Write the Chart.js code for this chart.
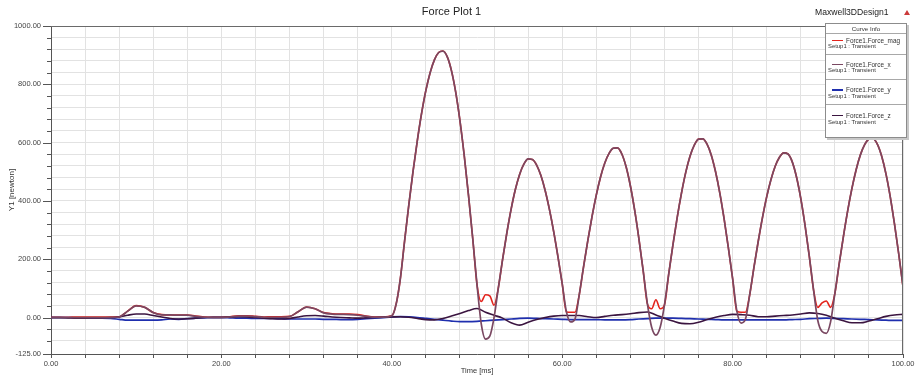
<!DOCTYPE html>
<html>
<head>
<meta charset="utf-8">
<script src="https://cdn.jsdelivr.net/npm/chart.js@4.4.1/dist/chart.umd.min.js"></script>
<style>
html,body{margin:0;padding:0;background:#fff;}
#wrap{position:relative;width:919px;height:376px;overflow:hidden;font-family:"Liberation Sans",Arial,sans-serif;}
#c{position:absolute;left:0;top:0;}
#design{position:absolute;left:815px;top:7px;font-size:8.6px;line-height:10px;color:#222;white-space:nowrap;}
#tri{position:absolute;left:904px;top:10px;width:0;height:0;border-left:3px solid transparent;border-right:3px solid transparent;border-bottom:5px solid #cc3a3a;}
#legend{position:absolute;left:825px;top:23px;width:82px;height:115px;border:1px solid #8c8c8c;background:#fff;box-shadow:2px 2px 0 #c8c8c8;box-sizing:border-box;}
#legend .hdr{position:absolute;left:0;width:100%;top:1px;text-align:center;font-size:6.2px;line-height:7px;color:#333;}
#legend .sep{position:absolute;left:0;width:100%;height:0;border-top:1px solid #a8a8a8;}
#legend .sw{position:absolute;left:6px;width:11px;height:1.6px;}
#legend .nm{position:absolute;left:20px;font-size:6.4px;line-height:7px;color:#333;white-space:nowrap;}
#legend .st{position:absolute;left:2px;font-size:5.9px;line-height:7px;color:#333;white-space:nowrap;}
</style>
</head>
<body>
<div id="wrap">
  <canvas id="c" width="919" height="376"></canvas>
  <div id="design">Maxwell3DDesign1</div>
  <div id="tri"></div>
  <div id="legend"><div class="hdr">Curve Info</div></div>
</div>
<script>
// ---------------- data ----------------
const chartTitle = "Force Plot 1";
const designName = "Maxwell3DDesign1";
const setupName = "Setup1 : Transient";
const xTitle = "Time [ms]";
const yTitle = "Y1 [newton]";

const seriesNames = ["Force1.Force_mag", "Force1.Force_x", "Force1.Force_y", "Force1.Force_z"];

// time axis (ms) for Force_mag and Force_x
const timeFine = [
  0,1,2,3,4,5,6,7,8,9,10,11,12,13,14,15,16,17,18,19,20,
  21,22,23,24,25,26,27,28,29,30,31,32,33,34,35,36,37,38,39,40,
  40.5,41,41.5,42,42.5,43,43.5,44,44.5,45,45.5,46,46.5,47,47.5,48,48.5,49,49.5,50,
  50.5,51,51.5,52,52.5,53,53.5,54,54.5,55,55.5,56,56.5,57,57.5,58,58.5,59,59.5,60,
  60.5,61,61.5,62,62.5,63,63.5,64,64.5,65,65.5,66,66.5,67,67.5,68,68.5,69,69.5,70,
  70.5,71,71.5,72,72.5,73,73.5,74,74.5,75,75.5,76,76.5,77,77.5,78,78.5,79,79.5,80,
  80.5,81,81.5,82,82.5,83,83.5,84,84.5,85,85.5,86,86.5,87,87.5,88,88.5,89,89.5,90,
  90.5,91,91.5,92,92.5,93,93.5,94,94.5,95,95.5,96,96.5,97,97.5,98,98.5,99,99.5,100
];

const forceMag = [
  1,1,1,2,2,2,2,2,3,22,41,35,17,10,9,9,9,5,2,1,1,
  3,6,6,4,2,3,3,4,20,36,30,17,13,12,12,10,5,2,2,6,
  45,133,262,387,503,608,701,779,840,884,909,914,895,847,773,675,556,420,271,113,
  55,78,74,42,101,199,290,371,439,491,526,544,542,523,487,436,371,295,209,116,
  19,18,18,78,173,263,346,420,482,530,563,581,582,561,517,452,369,271,162,47,
  30,61,30,43,149,250,344,427,498,553,591,612,613,595,557,500,427,339,240,134,
  22,18,18,77,171,260,342,414,473,519,550,565,561,534,482,409,317,211,95,35,
  50,57,35,82,182,277,365,442,507,558,593,612,613,594,553,493,415,321,218,106
];

const forceX = [
  0,0,0,0,0,0,0,0,2,22,40,35,17,9,9,8,8,4,1,0,0,
  2,5,5,3,1,1,1,3,20,36,30,16,12,11,10,8,4,1,1,6,
  45,133,262,387,503,608,701,779,840,884,909,914,895,847,773,675,556,420,271,113,
  -22,-74,-64,0,101,199,290,371,439,491,526,544,542,523,487,436,371,295,209,116,
  19,-15,-5,78,173,263,346,420,482,530,563,581,582,561,517,452,369,271,162,47,
  -33,-60,-33,43,149,250,344,427,498,553,591,612,613,595,557,500,427,339,240,134,
  22,-19,-6,77,171,260,342,414,473,519,550,565,561,534,482,409,317,211,95,-10,
  -48,-54,-15,82,182,277,365,442,507,558,593,612,613,594,553,493,415,321,218,106
];

// time axis (ms) for Force_y and Force_z
const timeCoarse = [
  0,1,2,3,4,5,6,7,8,9,10,11,12,13,14,15,16,17,18,19,20,
  21,22,23,24,25,26,27,28,29,30,31,32,33,34,35,36,37,38,39,40,
  41,42,43,44,45,46,47,48,49,50,51,52,53,54,55,56,57,58,59,60,
  61,62,63,64,65,66,67,68,69,70,71,72,73,74,75,76,77,78,79,80,
  81,82,83,84,85,86,87,88,89,90,91,92,93,94,95,96,97,98,99,100
];

const forceY = [
  0,0,0,-1,-2,-2,-2,-3,-6,-9,-9,-9,-9,-8,-5,-6,-4,-2,-1,0,0,
  -1,-2,-2,-3,-3,-3,-4,-5,-5,-5,-5,-6,-6,-7,-7,-6,-4,-2,0,2,
  3,2,0,-3,-6,-9,-12,-14,-14,-13,-11,-9,-7,-5,-3,-2,-3,-4,-5,-6,
  -7,-7,-7,-7,-8,-8,-8,-7,-5,-4,-2,-2,-2,-3,-4,-5,-6,-7,-8,-8,
  -8,-8,-8,-8,-8,-8,-7,-6,-4,-3,-2,-3,-4,-5,-6,-7,-8,-9,-10,-10
];

const forceZ = [
  0,0,-1,-2,-2,-1,-1,0,2,8,12,12,7,2,-3,-5,-4,-2,0,1,1,
  2,3,2,0,-2,-4,-5,-3,2,6,7,5,2,0,-1,-2,-1,0,1,2,
  3,1,-3,-7,-8,-3,5,14,24,31,18,8,-2,-18,-26,-16,-7,0,5,7,
  7,7,3,0,4,8,10,13,17,19,9,-2,-12,-20,-21,-16,-7,1,7,11,
  10,8,3,3,5,7,9,12,16,14,8,-2,-11,-18,-18,-12,-4,4,9,11
];

// axis ticks
const xMin = 0, xMax = 100, xMinorStep = 4;
const xLabelValues = [0, 20, 40, 60, 80, 100];
const yMin = -125, yMax = 1000, yMinorStep = 40;
const yLabelValues = [-125, 0, 200, 400, 600, 800, 1000];

// ---------------- styles ----------------
const seriesColors = ["#e3241d", "#7a4862", "#1f2fae", "#3b1540"];

// ---------------- legend (HTML) ----------------
(function buildLegend(){
  const lg = document.getElementById('legend');
  const sepY = [9, 30, 55, 80];
  const nameY = [12.5, 36.5, 62, 87.5];
  const setupY = [18.5, 43, 69, 94.5];
  seriesNames.forEach((n, i) => {
    const s = document.createElement('div'); s.className = 'sep'; s.style.top = sepY[i] + 'px'; lg.appendChild(s);
    const sw = document.createElement('div'); sw.className = 'sw'; sw.style.top = (nameY[i] + 3) + 'px'; sw.style.background = seriesColors[i]; lg.appendChild(sw);
    const nm = document.createElement('div'); nm.className = 'nm'; nm.style.top = nameY[i] + 'px'; nm.textContent = n; lg.appendChild(nm);
    const st = document.createElement('div'); st.className = 'st'; st.style.top = setupY[i] + 'px'; st.textContent = setupName; lg.appendChild(st);
  });
  document.getElementById('design').textContent = designName;
})();

// ---------------- chart ----------------
Chart.defaults.font.family = '"Liberation Sans", Arial, sans-serif';

const toXY = (ts, vs) => ts.map((t, i) => ({x: t, y: vs[i]}));

const framePlugin = {
  id: 'frame',
  afterDraw(chart) {
    const {ctx, chartArea: a, scales} = chart;
    ctx.save();
    ctx.lineWidth = 1;
    ctx.strokeStyle = '#6a6a6a';
    ctx.beginPath();
    ctx.moveTo(Math.round(a.left), Math.round(a.top) + 0.5);
    ctx.lineTo(Math.round(a.right), Math.round(a.top) + 0.5);
    ctx.moveTo(Math.round(a.right) - 0.5, Math.round(a.top));
    ctx.lineTo(Math.round(a.right) - 0.5, Math.round(a.bottom));
    ctx.stroke();
    // y tick marks (longer for labelled ticks)
    const ys = scales.y;
    ctx.strokeStyle = '#555';
    ctx.beginPath();
    ys.ticks.forEach(t => {
      const py = Math.round(ys.getPixelForValue(t.value)) + 0.5;
      const len = yLabelValues.includes(t.value) ? 8 : 4;
      ctx.moveTo(a.left - len, py);
      ctx.lineTo(a.left, py);
    });
    ctx.stroke();
    ctx.restore();
  }
};

new Chart(document.getElementById('c'), {
  type: 'line',
  data: {
    datasets: [
      {label: seriesNames[0], data: toXY(timeFine, forceMag), borderColor: seriesColors[0], borderWidth: 1.6, order: 4},
      {label: seriesNames[1], data: toXY(timeFine, forceX), borderColor: seriesColors[1], borderWidth: 1.7, order: 1},
      {label: seriesNames[2], data: toXY(timeCoarse, forceY), borderColor: seriesColors[2], borderWidth: 1.7, order: 3},
      {label: seriesNames[3], data: toXY(timeCoarse, forceZ), borderColor: seriesColors[3], borderWidth: 1.6, order: 2}
    ]
  },
  options: {
    responsive: false,
    animation: false,
    events: [],
    elements: {point: {radius: 0}, line: {cubicInterpolationMode: 'monotone', fill: false}},
    layout: {padding: {left: 0, right: 16, top: 0, bottom: 0}},
    plugins: {
      legend: {display: false},
      tooltip: {enabled: false},
      title: {display: true, text: chartTitle, color: '#222', font: {size: 11, weight: 'normal'}, padding: {top: 5.5, bottom: 7.3}}
    },
    scales: {
      x: {
        type: 'linear', min: xMin, max: xMax,
        afterFit: s => { s.height = 22; },
        ticks: {stepSize: xMinorStep, autoSkip: false, maxRotation: 0, padding: 1, color: '#444', font: {size: 7.5},
          callback: v => xLabelValues.includes(v) ? v.toFixed(2) : ''},
        grid: {color: '#e2e2e2', lineWidth: 1, drawTicks: true, tickLength: 4, tickColor: '#555'},
        border: {display: true, color: '#555', width: 1},
        title: {display: true, text: xTitle, color: '#333', font: {size: 7.5}, padding: {top: 0, bottom: 1}}
      },
      y: {
        type: 'linear', min: yMin, max: yMax,
        afterFit: s => { s.width = 51; },
        afterBuildTicks: s => {
          const t = [{value: yMin}];
          for (let v = -80; v <= yMax; v += yMinorStep) t.push({value: v});
          s.ticks = t;
        },
        ticks: {autoSkip: false, padding: 10, color: '#444', font: {size: 7.5},
          callback: v => yLabelValues.includes(v) ? v.toFixed(2) : ''},
        grid: {color: '#e2e2e2', lineWidth: 1, drawTicks: false},
        border: {display: true, color: '#555', width: 1},
        title: {display: true, text: yTitle, color: '#333', font: {size: 8}, padding: {top: 7, bottom: 0}}
      }
    }
  },
  plugins: [framePlugin]
});
</script>
</body>
</html>
